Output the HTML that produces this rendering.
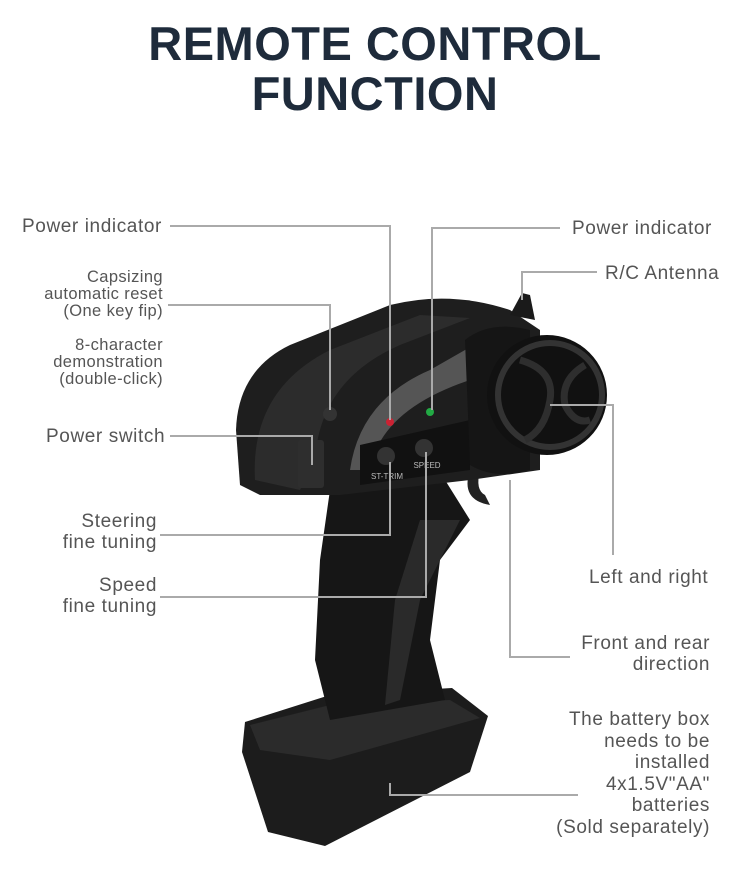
<!DOCTYPE html>
<html><head><meta charset="utf-8"><style>
html,body{margin:0;padding:0;background:#fff;}
body{width:750px;height:879px;position:relative;overflow:hidden;font-family:"Liberation Sans",sans-serif;}
.t{position:absolute;left:0;width:750px;text-align:center;font-weight:900;color:#1e2b3b;font-size:47px;letter-spacing:0.5px;line-height:52px;}
.l{position:absolute;color:#555;font-size:19px;line-height:21px;letter-spacing:0.6px;white-space:nowrap;}
.s{font-size:16.5px;line-height:17px;letter-spacing:0.4px;}
.r{text-align:right;}
</style></head><body>
<div class="t" style="top:18px">REMOTE CONTROL</div>
<div class="t" style="top:68px">FUNCTION</div>

<svg width="750" height="879" style="position:absolute;left:0;top:0">
<polygon points="245,722 330,695 452,688 488,716 470,772 325,846 268,832 242,752" fill="#1c1c1c"/>
<polygon points="250,725 330,705 450,700 480,718 330,760 260,750" fill="#2b2b2b"/>
<path d="M330,490 L445,480 L470,520 L440,560 L430,640 L445,700 L330,720 L315,660 L320,560 Z" fill="#161616"/>
<path d="M420,520 L460,520 L420,600 L400,700 L385,705 L395,600 Z" fill="#2a2a2a"/>
<path d="M470,470 Q460,500 490,505 L485,495 Q475,490 480,470 Z" fill="#222"/>
<path d="M240,485 L236,430 Q238,370 290,345 L390,305 Q450,290 510,310 L540,330 L540,470 L470,480 L340,495 L260,495 Z" fill="#1e1e1e"/>
<path d="M255,480 Q250,390 330,350 L420,315 L470,318 L400,345 Q320,380 315,460 L300,490 Z" fill="#2c2c2c"/>
<path d="M350,470 Q360,400 430,370 L500,330 L520,335 L470,380 Q380,410 370,470 Z" fill="#555"/>
<path d="M360,445 L470,420 L470,470 L360,485 Z" fill="#111"/>
<path d="M465,340 Q490,320 530,330 L530,470 Q495,480 470,465 Z" fill="#151515"/>
<circle cx="547" cy="395" r="60" fill="#111"/>
<circle cx="550" cy="395" r="52" fill="none" stroke="#333" stroke-width="6"/>
<path d="M520,360 Q555,370 550,400 Q545,430 525,440" fill="none" stroke="#2e2e2e" stroke-width="7"/>
<path d="M585,365 Q560,380 565,405 Q575,425 590,420" fill="none" stroke="#2e2e2e" stroke-width="7"/>
<polygon points="510,315 522,293 530,295 535,320" fill="#1a1a1a"/>
<rect x="298" y="440" width="26" height="48" rx="3" fill="#2e2e2e"/>
<circle cx="330" cy="414" r="7" fill="#333"/>
<circle cx="390" cy="422" r="4" fill="#c23"/>
<circle cx="430" cy="412" r="4" fill="#2a4"/>
<circle cx="386" cy="456" r="9" fill="#333"/>
<circle cx="424" cy="448" r="9" fill="#333"/>
<text x="387" y="479" fill="#bbb" font-size="8" text-anchor="middle" font-family="Liberation Sans">ST-TRIM</text>
<text x="427" y="468" fill="#bbb" font-size="8" text-anchor="middle" font-family="Liberation Sans">SPEED</text>
<g fill="none" stroke="#aaa" stroke-width="2">
<polyline points="170,226 390,226 390,420"/>
<polyline points="560,228 432,228 432,410"/>
<polyline points="597,272 522,272 522,300"/>
<polyline points="168,305 330,305 330,410"/>
<polyline points="170,436 312,436 312,465"/>
<polyline points="160,535 390,535 390,462"/>
<polyline points="160,597 426,597 426,452"/>
<polyline points="550,405 613,405 613,555"/>
<polyline points="510,480 510,657 570,657"/>
<polyline points="390,783 390,795 578,795"/>
</g>
</svg>

<div class="l" style="left:22px;top:216px">Power indicator</div>
<div class="l" style="left:572px;top:218px">Power indicator</div>
<div class="l" style="left:605px;top:263px">R/C Antenna</div>
<div class="l r s" style="right:587px;top:269px">Capsizing<br>automatic reset<br>(One key fip)</div>
<div class="l r s" style="right:587px;top:337px">8-character<br>demonstration<br>(double-click)</div>
<div class="l" style="left:46px;top:426px">Power switch</div>
<div class="l r" style="right:593px;top:511px">Steering<br>fine tuning</div>
<div class="l r" style="right:593px;top:575px">Speed<br>fine tuning</div>
<div class="l" style="left:589px;top:567px">Left and right</div>
<div class="l r" style="right:40px;top:633px">Front and rear<br>direction</div>
<div class="l r" style="right:40px;top:709px;line-height:21.5px">The battery box<br>needs to be<br>installed<br>4x1.5V"AA"<br>batteries<br>(Sold separately)</div>
</body></html>
